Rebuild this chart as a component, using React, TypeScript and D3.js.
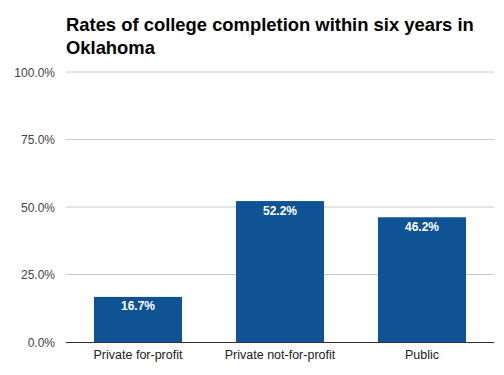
import React from "react";
import * as d3 from "d3";

const categories = ["Private for-profit", "Private not-for-profit", "Public"];
const values = [16.7, 52.2, 46.2];
const yTicks = [0, 25, 50, 75, 100];
const titleLines = ["Rates of college completion within six years in", "Oklahoma"];

export default function App() {
  const W = 504, H = 375;
  const left = 67, right = 493, top = 72, bottom = 342;
  const x = d3.scaleBand<string>().domain(categories).range([left, right]).paddingInner(0.38).paddingOuter(0.19);
  const y = d3.scaleLinear().domain([0, 100]).range([bottom, top]);
  const font = "Arial, 'Liberation Sans', sans-serif";
  return (
    <svg width={W} height={H} style={{ position: "absolute", left: 0, top: 0, background: "#fff" }}>
      {titleLines.map((t, i) => (
        <text key={i} x={66} y={31 + i * 22.5} fontFamily={font} fontWeight="bold" fontSize={18.4} fill="#000">{t}</text>
      ))}
      {yTicks.map((t) => (
        <g key={t}>
          {t > 0 && <line x1={left - 1} x2={right + 1} y1={y(t)} y2={y(t)} stroke="#cccccc" strokeWidth={1} />}
          <text x={55} y={y(t) + 4.5} textAnchor="end" fontFamily={font} fontSize={12} fill="#444">{t.toFixed(1)}%</text>
        </g>
      ))}
      {categories.map((c, i) => (
        <g key={c}>
          <rect x={x(c)} y={y(values[i])} width={x.bandwidth()} height={bottom - y(values[i])} fill="#0f5394" />
          <text x={(x(c) as number) + x.bandwidth() / 2} y={y(values[i]) + 13.5} textAnchor="middle" fontFamily={font} fontWeight="bold" fontSize={12} fill="#fff">{values[i].toFixed(1)}%</text>
          <text x={(x(c) as number) + x.bandwidth() / 2} y={bottom + 17} textAnchor="middle" fontFamily={font} fontSize={12.5} fill="#222">{c}</text>
        </g>
      ))}
      <line x1={left - 1} x2={right + 1} y1={bottom + 0.5} y2={bottom + 0.5} stroke="#333" strokeWidth={1} />
    </svg>
  );
}
